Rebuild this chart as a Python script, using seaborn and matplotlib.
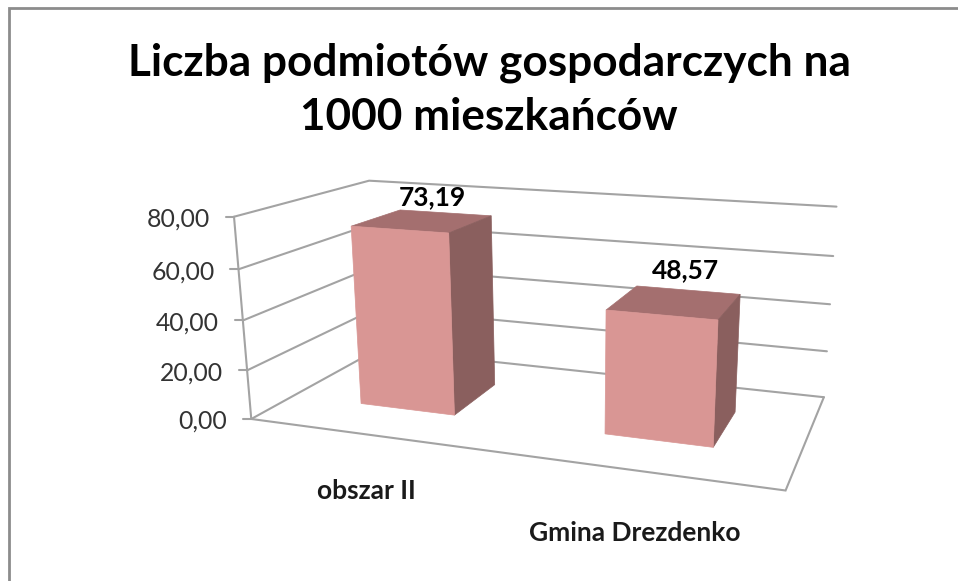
import numpy as np
import pandas as pd
import matplotlib
matplotlib.use("Agg")
import matplotlib.pyplot as plt
from matplotlib.patches import Polygon
import seaborn as sns

TITLE = "Liczba podmiotów gospodarczych na\n1000 mieszkańców"
categories = ["obszar II", "Gmina Drezdenko"]
values = [73.19, 48.57]
y_ticks = [0, 20, 40, 60, 80]
y_tick_labels = ["0,00", "20,00", "40,00", "60,00", "80,00"]
value_labels = ["73,19", "48,57"]

sns.set_theme(style="white")
plt.rcParams["font.family"] = ["Lato", "DejaVu Sans"]

W, H = 958, 581
fig = plt.figure(figsize=(W / 100, H / 100), dpi=100, facecolor="white")

# Helper axes: seaborn computes the bar geometry in data units.
helper = fig.add_axes([0, 0, 0.1, 0.1])
frame = pd.DataFrame({"cat": categories, "val": values})
sns.barplot(data=frame, x="cat", y="val", width=0.4, ax=helper, errorbar=None)
bars = [(p.get_x(), p.get_width(), p.get_height()) for p in helper.patches]
helper.set_visible(False)

ax = fig.add_axes([0, 0, 1, 1])
ax.set_xlim(0, W)
ax.set_ylim(H, 0)
ax.axis("off")

# Perspective view of the 3D box: (u, depth, height) in 0..1 -> canvas position.
view = [
    ((0, 0, 0), (249, 420)), ((1, 0, 0), (786, 489)),
    ((0, 1, 0), (380, 348)), ((1, 1, 0), (823, 399)),
    ((0, 0, 1), (236, 217)), ((0, 1, 1), (367, 181)),
    ((1, 1, 1), (837, 206)),
]
A, b = [], []
for (u, d, v), (X, Y) in view:
    A.append([u, d, v, 1, 0, 0, 0, 0, -X * u, -X * d, -X * v]); b.append(X)
    A.append([0, 0, 0, 0, u, d, v, 1, -Y * u, -Y * d, -Y * v]); b.append(Y)
m = np.linalg.lstsq(np.array(A, float), np.array(b, float), rcond=None)[0]
P = np.append(m, 1.0).reshape(3, 4)

Y_MAX = y_ticks[-1]


def project(x, depth, value):
    """x in category units (-0.5..1.5), depth 0..1, value in axis units."""
    q = P @ np.array([(x + 0.5) / 2, depth, value / Y_MAX, 1.0])
    return q[0] / q[2], q[1] / q[2]


GRID = "#a3a3a3"
LW = 1.5


def line(points, color=GRID, lw=LW, z=1):
    xs, ys = zip(*points)
    ax.plot(xs, ys, color=color, lw=lw, zorder=z, solid_capstyle="round", solid_joinstyle="miter")


# Walls, floor, axis
for t, lab in zip(y_ticks, y_tick_labels):
    line([project(-0.5, 0, t), project(-0.5, 1, t), project(1.5, 1, t)])
    ax_x, ax_y = project(-0.5, 0, t)
    line([(ax_x - 8, ax_y), (ax_x, ax_y)])
    ax.text(ax_x - 24, ax_y + 2.5, lab, ha="right", va="center", fontsize=17.8, color="#333333")
line([project(-0.5, 0, 0), project(-0.5, 0, Y_MAX)])
line([project(-0.5, 0, 0), project(1.5, 0, 0), project(1.5, 1, 0)])

# Bars
FRONT, TOP, SIDE = "#d99694", "#a46f6f", "#8a5f5e"
D0, D1 = 0.3, 0.7
for i, (x0, w, h) in enumerate(bars):
    x1 = x0 + w
    faces = [
        ([(x0, D0, h), (x1, D0, h), (x1, D1, h), (x0, D1, h)], TOP),
        ([(x1, D0, 0), (x1, D1, 0), (x1, D1, h), (x1, D0, h)], SIDE),
        ([(x0, D0, 0), (x1, D0, 0), (x1, D0, h), (x0, D0, h)], FRONT),
    ]
    for corners, col in faces:
        ax.add_patch(Polygon([project(*c) for c in corners], closed=True, fc=col, ec=col, lw=0.5, zorder=3 + i))

# Data labels and category labels
label_shift = [(-13, -16), (-2, -20)]
cat_shift = [(-3, 56), (-1, 63)]
for i, (x0, w, h) in enumerate(bars):
    xc = x0 + w / 2
    px, py = project(xc, D1, h)
    ax.text(px + label_shift[i][0], py + label_shift[i][1], value_labels[i], ha="center", va="center",
            fontsize=19, fontweight="bold", color="black", zorder=6)
    px, py = project(xc, 0, 0)
    ax.text(px + cat_shift[i][0], py + cat_shift[i][1], categories[i], ha="center", va="center",
            fontsize=19, fontweight="bold", color="#1a1a1a", zorder=6)

# Title
ax.text(489, 90, TITLE, ha="center", va="center", fontsize=31.8, fontweight="bold",
        color="black", linespacing=1.42, zorder=6)

# Chart frame (left and top edges reach the picture's border)
ax.plot([9, 9, W], [H, 8, 8], color="#8c8c8c", lw=2, solid_joinstyle="miter", zorder=7)

fig.savefig("out.png", dpi=100, facecolor="white")
